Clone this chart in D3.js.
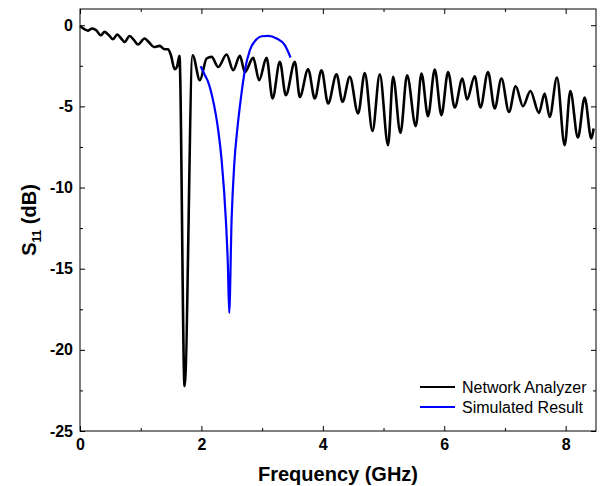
<!DOCTYPE html>
<html>
<head>
<meta charset="utf-8">
<script src="https://cdn.jsdelivr.net/npm/d3@7"></script>
<style>
  body { margin: 0; background: #fff; }
  svg { display: block; font-family: "Liberation Sans", Arial, sans-serif; }
  .axis text { font-size: 16px; font-weight: bold; fill: #000; }
  .axis line { stroke: #000; stroke-width: 1; }
  .axis path { display: none; }
</style>
</head>
<body>
<div id="chart"></div>
<script>
// Network Analyzer measurement (GHz, dB)
const naFreq = [0, 0.077, 0.132, 0.198, 0.268, 0.341, 0.407, 0.477, 0.543, 0.614, 0.675, 0.736, 0.818, 0.889, 0.955,
    1.065, 1.136, 1.218, 1.312, 1.394, 1.449, 1.498, 1.559, 1.597, 1.638, 1.723, 1.855, 1.975, 2.086, 2.168,
    2.277, 2.415, 2.523, 2.634, 2.716, 2.853, 2.951, 3.073, 3.172, 3.292, 3.391, 3.539, 3.621, 3.758, 3.868,
    3.979, 4.087, 4.226, 4.324, 4.444, 4.581, 4.691, 4.818, 4.938, 5.075, 5.157, 5.279, 5.388, 5.531, 5.625,
    5.733, 5.844, 5.954, 6.063, 6.173, 6.300, 6.375, 6.502, 6.596, 6.721, 6.831, 6.942, 7.067, 7.177, 7.297,
    7.419, 7.560, 7.654, 7.737, 7.857, 7.984, 8.077, 8.202, 8.313, 8.423, 8.461];
const naDb = [-0.05, -0.25, -0.33, -0.20, -0.31, -0.62, -0.41, -0.62, -0.86, -0.57, -0.80, -1.03, -0.66, -0.92, -1.19,
    -0.82, -1.05, -1.34, -1.27, -1.48, -1.48, -1.85, -2.71, -2.57, -1.88, -22.23, -1.85, -3.39, -2.05, -1.95,
    -2.57, -1.80, -2.77, -1.89, -2.88, -2.01, -3.39, -2.01, -4.51, -2.26, -4.31, -2.26, -4.42, -2.71, -4.51,
    -2.77, -4.82, -3.02, -4.72, -3.18, -5.44, -2.94, -6.51, -3.02, -7.39, -3.18, -6.63, -3.08, -6.22, -2.97,
    -5.60, -2.73, -5.54, -2.88, -5.07, -3.28, -4.58, -3.14, -5.07, -2.88, -5.13, -3.28, -5.34, -3.76, -4.99,
    -4.05, -5.40, -4.21, -5.65, -3.22, -7.39, -4.05, -6.92, -4.45, -6.98, -6.36];

// Simulated result (GHz, dB)
const simFreq = [1.987, 2.058, 2.112, 2.173, 2.239, 2.277, 2.333, 2.403, 2.436, 2.458, 2.497, 2.540, 2.593, 2.650,
    2.716, 2.798, 2.909, 2.996, 3.100, 3.238, 3.374, 3.468];
const simDb = [-2.53, -3.08, -3.51, -4.31, -5.54, -6.47, -8.31, -12.01, -14.78, -17.73, -12.01, -8.62, -6.34, -4.50,
    -2.77, -1.54, -0.86, -0.68, -0.66, -0.82, -1.23, -1.99];

const xTicks = [0, 2, 4, 6, 8];
const xMinor = [1, 3, 5, 7];
const yTicks = [0, -5, -10, -15, -20, -25];
const yMinor = [-2.5, -7.5, -12.5, -17.5, -22.5];
const seriesNames = ["Network Analyzer", "Simulated Result"];
const seriesColors = ["#000000", "#0000ff"];

const W = 602, H = 486;
const margin = {left: 80, right: 596, top: 9, bottom: 431};

const svg = d3.select("#chart").append("svg")
    .attr("width", W)
    .attr("height", H);

const x = d3.scaleLinear().domain([0, 8.5]).range([margin.left, margin.right]);
const y = d3.scaleLinear().domain([-25, 1]).range([margin.bottom, margin.top]);

// axes, ticks pointing inward
const fmt = d => String(d);
const addAxis = (axis, tx, ty) => {
    svg.append("g").attr("class", "axis")
        .attr("transform", "translate(" + tx + "," + ty + ")")
        .call(axis);
};
addAxis(d3.axisBottom(x).tickValues(xTicks).tickSizeInner(-5).tickSizeOuter(0).tickPadding(8).tickFormat(fmt), 0, margin.bottom);
addAxis(d3.axisBottom(x).tickValues(xMinor).tickSizeInner(-3).tickSizeOuter(0).tickFormat(""), 0, margin.bottom);
addAxis(d3.axisTop(x).tickValues(xTicks).tickSizeInner(-5).tickSizeOuter(0).tickFormat(""), 0, margin.top);
addAxis(d3.axisTop(x).tickValues(xMinor).tickSizeInner(-3).tickSizeOuter(0).tickFormat(""), 0, margin.top);
addAxis(d3.axisLeft(y).tickValues(yTicks).tickSizeInner(-5).tickSizeOuter(0).tickPadding(7).tickFormat(fmt), margin.left, 0);
addAxis(d3.axisLeft(y).tickValues(yMinor).tickSizeInner(-3).tickSizeOuter(0).tickFormat(""), margin.left, 0);
addAxis(d3.axisRight(y).tickValues(yTicks).tickSizeInner(-5).tickSizeOuter(0).tickFormat(""), margin.right, 0);
addAxis(d3.axisRight(y).tickValues(yMinor).tickSizeInner(-3).tickSizeOuter(0).tickFormat(""), margin.right, 0);

// curves
const line = d3.line()
    .x(d => x(d[0]))
    .y(d => y(d[1]))
    .curve(d3.curveMonotoneX);

const naData = naFreq.map((f, i) => [f, naDb[i]]);
const simData = simFreq.map((f, i) => [f, simDb[i]]);

svg.append("path")
    .datum(naData)
    .attr("fill", "none")
    .attr("stroke", seriesColors[0])
    .attr("stroke-width", 2.6)
    .attr("stroke-linejoin", "round")
    .attr("d", line);

svg.append("path")
    .datum(simData)
    .attr("fill", "none")
    .attr("stroke", seriesColors[1])
    .attr("stroke-width", 2.2)
    .attr("stroke-linejoin", "round")
    .attr("d", line);

// frame
svg.append("rect")
    .attr("x", margin.left)
    .attr("y", margin.top)
    .attr("width", margin.right - margin.left)
    .attr("height", margin.bottom - margin.top)
    .attr("fill", "none")
    .attr("stroke", "#000")
    .attr("stroke-width", 1);

// axis titles
svg.append("text")
    .attr("x", (margin.left + margin.right) / 2)
    .attr("y", 481)
    .attr("text-anchor", "middle")
    .style("font-size", "20px")
    .style("font-weight", "bold")
    .text("Frequency (GHz)");

const yTitle = svg.append("text")
    .attr("transform", "translate(36," + ((margin.top + margin.bottom) / 2) + ") rotate(-90)")
    .attr("text-anchor", "middle")
    .style("font-size", "20px")
    .style("font-weight", "bold");
yTitle.append("tspan").text("S");
yTitle.append("tspan").attr("dy", 5).style("font-size", "12px").text("11");
yTitle.append("tspan").attr("dy", -5).text(" (dB)");

// legend
const legend = svg.append("g");
seriesNames.forEach((name, i) => {
    const ly = 387 + i * 20;
    legend.append("line")
        .attr("x1", 420).attr("x2", 455)
        .attr("y1", ly).attr("y2", ly)
        .attr("stroke", seriesColors[i])
        .attr("stroke-width", 2);
    legend.append("text")
        .attr("x", 462)
        .attr("y", ly + 6)
        .style("font-size", "16px")
        .text(name);
});
</script>
</body>
</html>
